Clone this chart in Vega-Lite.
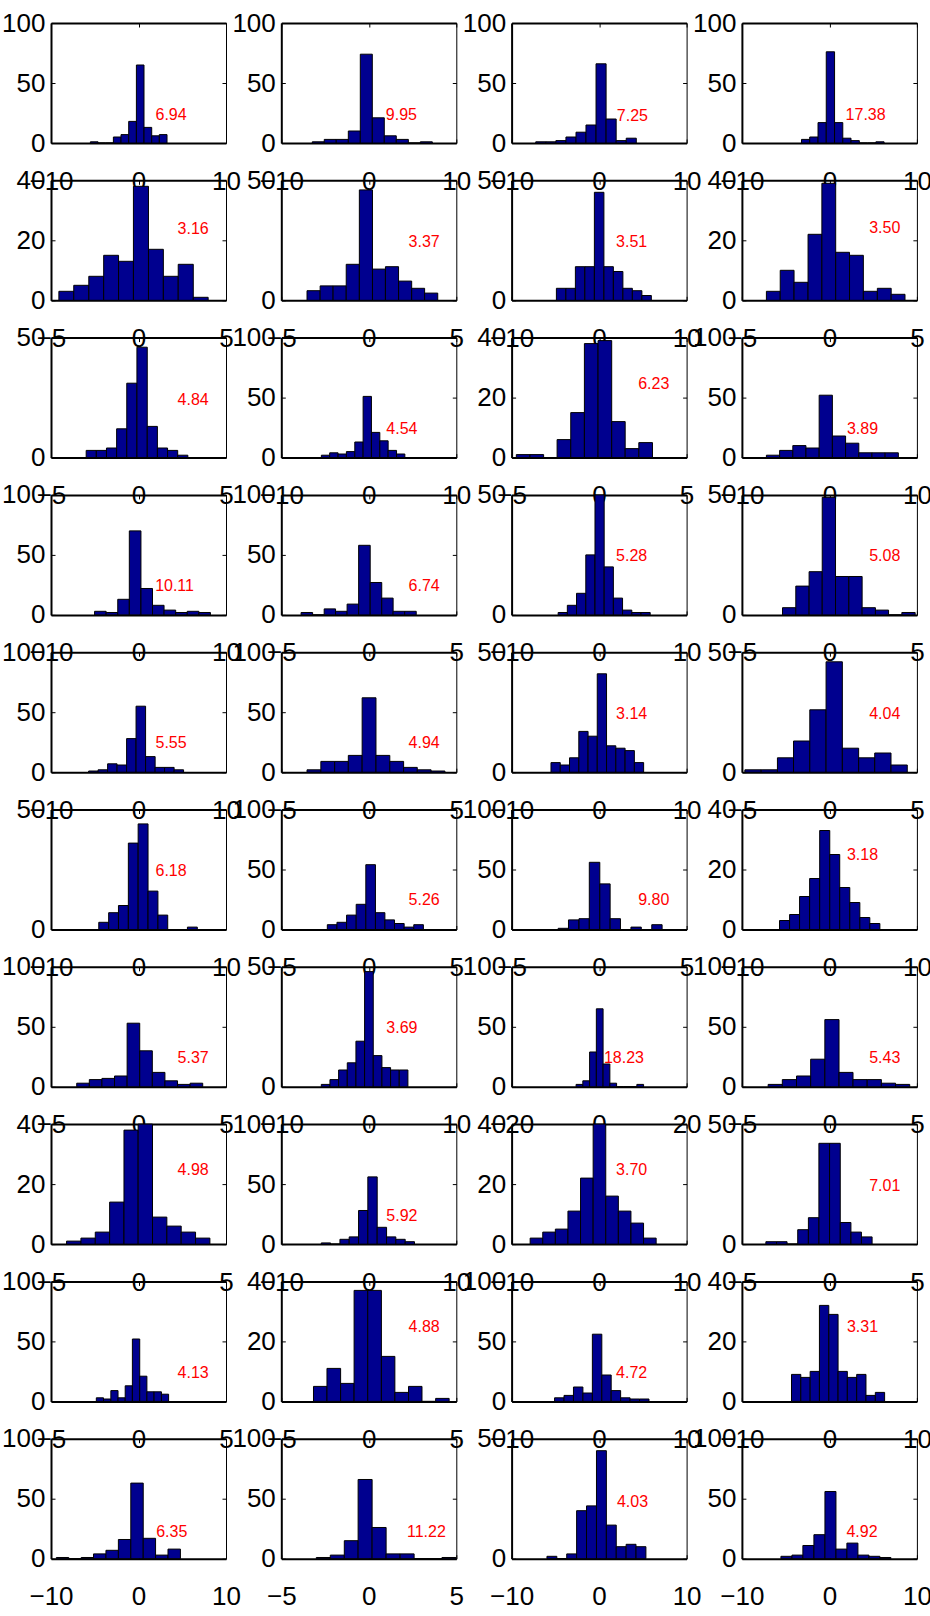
{
"$schema":"https://vega.github.io/schema/vega-lite/v6.json",
"background":"white",
"padding":{"left":1,"top":10,"right":0,"bottom":0},
"datasets":{
"labels":[
{"p":1,"t":"6.94","lx":3.72,"ly":23.6},{"p":2,"t":"9.95","lx":3.72,"ly":23.6},{"p":3,"t":"7.25","lx":3.8,"ly":22.3},{"p":4,"t":"17.38","lx":4.14,"ly":23.6},
{"p":5,"t":"3.16","lx":3.12,"ly":23.9},{"p":6,"t":"3.37","lx":3.16,"ly":24.1},{"p":7,"t":"3.51","lx":3.72,"ly":24.1},{"p":8,"t":"3.50","lx":3.16,"ly":24},
{"p":9,"t":"4.84","lx":3.12,"ly":24.1},{"p":10,"t":"4.54","lx":3.78,"ly":24.1},{"p":11,"t":"6.23","lx":3.12,"ly":24.5},{"p":12,"t":"3.89","lx":3.78,"ly":24.1},
{"p":13,"t":"10.11","lx":4.12,"ly":23.8},{"p":14,"t":"6.74","lx":3.16,"ly":23.8},{"p":15,"t":"5.28","lx":3.72,"ly":24.4},{"p":16,"t":"5.08","lx":3.16,"ly":24.4},
{"p":17,"t":"5.55","lx":3.72,"ly":24.1},{"p":18,"t":"4.94","lx":3.16,"ly":24.1},{"p":19,"t":"3.14","lx":3.72,"ly":24.4},{"p":20,"t":"4.04","lx":3.16,"ly":24.4},
{"p":21,"t":"6.18","lx":3.72,"ly":24.4},{"p":22,"t":"5.26","lx":3.16,"ly":24.6},{"p":23,"t":"9.80","lx":3.12,"ly":24.6},{"p":24,"t":"3.18","lx":3.78,"ly":24.9},
{"p":25,"t":"5.37","lx":3.12,"ly":24.4},{"p":26,"t":"3.69","lx":3.78,"ly":24.5},{"p":27,"t":"18.23","lx":5.68,"ly":24.4},{"p":28,"t":"5.43","lx":3.16,"ly":24.4},
{"p":29,"t":"4.98","lx":3.12,"ly":24.6},{"p":30,"t":"5.92","lx":3.78,"ly":23.4},{"p":31,"t":"3.70","lx":3.72,"ly":24.6},{"p":32,"t":"7.01","lx":3.16,"ly":24.4},
{"p":33,"t":"4.13","lx":3.12,"ly":23.7},{"p":34,"t":"4.88","lx":3.16,"ly":24.8},{"p":35,"t":"4.72","lx":3.72,"ly":23.7},{"p":36,"t":"3.31","lx":3.78,"ly":24.8},
{"p":37,"t":"6.35","lx":3.8,"ly":22.4},{"p":38,"t":"11.22","lx":3.29,"ly":22.4},{"p":39,"t":"4.03","lx":3.82,"ly":23.6},{"p":40,"t":"4.92","lx":3.72,"ly":22.5}
],
"bars":[
{"p":1,"a":-5.5,"b":-4.62,"n":1},{"p":1,"a":-4.62,"b":-3.75,"n":0},{"p":1,"a":-3.75,"b":-2.87,"n":0},{"p":1,"a":-2.87,"b":-2.0,"n":5},{"p":1,"a":-2.0,"b":-1.12,"n":7},{"p":1,"a":-1.12,"b":-0.24,"n":18},{"p":1,"a":-0.24,"b":0.63,"n":65},{"p":1,"a":0.63,"b":1.51,"n":13},{"p":1,"a":1.51,"b":2.38,"n":6},{"p":1,"a":2.38,"b":3.26,"n":7},
{"p":2,"a":-6.46,"b":-5.09,"n":1},{"p":2,"a":-5.09,"b":-3.72,"n":3},{"p":2,"a":-3.72,"b":-2.34,"n":3},{"p":2,"a":-2.34,"b":-0.97,"n":10},{"p":2,"a":-0.97,"b":0.4,"n":74},{"p":2,"a":0.4,"b":1.77,"n":21},{"p":2,"a":1.77,"b":3.14,"n":6},{"p":2,"a":3.14,"b":4.52,"n":3},{"p":2,"a":4.52,"b":5.89,"n":0},{"p":2,"a":5.89,"b":7.26,"n":1},
{"p":3,"a":-7.24,"b":-6.09,"n":1},{"p":3,"a":-6.09,"b":-4.94,"n":1},{"p":3,"a":-4.94,"b":-3.79,"n":2},{"p":3,"a":-3.79,"b":-2.64,"n":5},{"p":3,"a":-2.64,"b":-1.5,"n":9},{"p":3,"a":-1.5,"b":-0.35,"n":15},{"p":3,"a":-0.35,"b":0.8,"n":66},{"p":3,"a":0.8,"b":1.95,"n":20},{"p":3,"a":1.95,"b":3.1,"n":2},{"p":3,"a":3.1,"b":4.25,"n":4},
{"p":4,"a":-3.19,"b":-2.25,"n":3},{"p":4,"a":-2.25,"b":-1.3,"n":5},{"p":4,"a":-1.3,"b":-0.36,"n":17},{"p":4,"a":-0.36,"b":0.59,"n":76},{"p":4,"a":0.59,"b":1.53,"n":17},{"p":4,"a":1.53,"b":2.47,"n":4},{"p":4,"a":2.47,"b":3.42,"n":2},{"p":4,"a":3.42,"b":4.36,"n":0},{"p":4,"a":4.36,"b":5.31,"n":0},{"p":4,"a":5.31,"b":6.25,"n":1},
{"p":5,"a":-4.55,"b":-3.7,"n":3},{"p":5,"a":-3.7,"b":-2.84,"n":5},{"p":5,"a":-2.84,"b":-1.99,"n":8},{"p":5,"a":-1.99,"b":-1.14,"n":15},{"p":5,"a":-1.14,"b":-0.29,"n":13},{"p":5,"a":-0.29,"b":0.57,"n":38},{"p":5,"a":0.57,"b":1.42,"n":17},{"p":5,"a":1.42,"b":2.27,"n":8},{"p":5,"a":2.27,"b":3.13,"n":12},{"p":5,"a":3.13,"b":3.98,"n":1},
{"p":6,"a":-3.53,"b":-2.78,"n":4},{"p":6,"a":-2.78,"b":-2.04,"n":6},{"p":6,"a":-2.04,"b":-1.29,"n":6},{"p":6,"a":-1.29,"b":-0.54,"n":15},{"p":6,"a":-0.54,"b":0.21,"n":46},{"p":6,"a":0.21,"b":0.95,"n":13},{"p":6,"a":0.95,"b":1.7,"n":14},{"p":6,"a":1.7,"b":2.45,"n":8},{"p":6,"a":2.45,"b":3.19,"n":5},{"p":6,"a":3.19,"b":3.94,"n":3},
{"p":7,"a":-4.88,"b":-3.8,"n":5},{"p":7,"a":-3.8,"b":-2.71,"n":5},{"p":7,"a":-2.71,"b":-1.63,"n":14},{"p":7,"a":-1.63,"b":-0.54,"n":14},{"p":7,"a":-0.54,"b":0.55,"n":45},{"p":7,"a":0.55,"b":1.63,"n":14},{"p":7,"a":1.63,"b":2.72,"n":12},{"p":7,"a":2.72,"b":3.8,"n":5},{"p":7,"a":3.8,"b":4.89,"n":4},{"p":7,"a":4.89,"b":5.97,"n":2},
{"p":8,"a":-3.6,"b":-2.81,"n":3},{"p":8,"a":-2.81,"b":-2.02,"n":10},{"p":8,"a":-2.02,"b":-1.22,"n":6},{"p":8,"a":-1.22,"b":-0.43,"n":22},{"p":8,"a":-0.43,"b":0.36,"n":39},{"p":8,"a":0.36,"b":1.15,"n":16},{"p":8,"a":1.15,"b":1.94,"n":15},{"p":8,"a":1.94,"b":2.74,"n":3},{"p":8,"a":2.74,"b":3.53,"n":4},{"p":8,"a":3.53,"b":4.32,"n":2},
{"p":9,"a":-2.99,"b":-2.41,"n":3},{"p":9,"a":-2.41,"b":-1.83,"n":3},{"p":9,"a":-1.83,"b":-1.25,"n":4},{"p":9,"a":-1.25,"b":-0.67,"n":12},{"p":9,"a":-0.67,"b":-0.09,"n":31},{"p":9,"a":-0.09,"b":0.5,"n":46},{"p":9,"a":0.5,"b":1.08,"n":13},{"p":9,"a":1.08,"b":1.66,"n":4},{"p":9,"a":1.66,"b":2.24,"n":3},{"p":9,"a":2.24,"b":2.82,"n":1},
{"p":10,"a":-5.42,"b":-4.47,"n":2},{"p":10,"a":-4.47,"b":-3.51,"n":4},{"p":10,"a":-3.51,"b":-2.56,"n":3},{"p":10,"a":-2.56,"b":-1.6,"n":5},{"p":10,"a":-1.6,"b":-0.65,"n":13},{"p":10,"a":-0.65,"b":0.3,"n":51},{"p":10,"a":0.3,"b":1.26,"n":21},{"p":10,"a":1.26,"b":2.21,"n":14},{"p":10,"a":2.21,"b":3.17,"n":6},{"p":10,"a":3.17,"b":4.12,"n":3},
{"p":11,"a":-4.73,"b":-3.95,"n":1},{"p":11,"a":-3.95,"b":-3.17,"n":1},{"p":11,"a":-3.17,"b":-2.4,"n":0},{"p":11,"a":-2.4,"b":-1.62,"n":6},{"p":11,"a":-1.62,"b":-0.84,"n":15},{"p":11,"a":-0.84,"b":-0.06,"n":38},{"p":11,"a":-0.06,"b":0.72,"n":39},{"p":11,"a":0.72,"b":1.49,"n":12},{"p":11,"a":1.49,"b":2.27,"n":3},{"p":11,"a":2.27,"b":3.05,"n":5},
{"p":12,"a":-7.2,"b":-5.69,"n":2},{"p":12,"a":-5.69,"b":-4.18,"n":6},{"p":12,"a":-4.18,"b":-2.68,"n":10},{"p":12,"a":-2.68,"b":-1.17,"n":8},{"p":12,"a":-1.17,"b":0.34,"n":52},{"p":12,"a":0.34,"b":1.85,"n":18},{"p":12,"a":1.85,"b":3.36,"n":12},{"p":12,"a":3.36,"b":4.86,"n":4},{"p":12,"a":4.86,"b":6.37,"n":4},{"p":12,"a":6.37,"b":7.88,"n":4},
{"p":13,"a":-5.02,"b":-3.7,"n":3},{"p":13,"a":-3.7,"b":-2.37,"n":2},{"p":13,"a":-2.37,"b":-1.05,"n":13},{"p":13,"a":-1.05,"b":0.28,"n":70},{"p":13,"a":0.28,"b":1.6,"n":22},{"p":13,"a":1.6,"b":2.92,"n":8},{"p":13,"a":2.92,"b":4.25,"n":4},{"p":13,"a":4.25,"b":5.57,"n":2},{"p":13,"a":5.57,"b":6.9,"n":3},{"p":13,"a":6.9,"b":8.22,"n":2},
{"p":14,"a":-3.87,"b":-3.21,"n":2},{"p":14,"a":-3.21,"b":-2.55,"n":0},{"p":14,"a":-2.55,"b":-1.9,"n":5},{"p":14,"a":-1.9,"b":-1.24,"n":3},{"p":14,"a":-1.24,"b":-0.58,"n":9},{"p":14,"a":-0.58,"b":0.08,"n":58},{"p":14,"a":0.08,"b":0.74,"n":27},{"p":14,"a":0.74,"b":1.39,"n":14},{"p":14,"a":1.39,"b":2.05,"n":3},{"p":14,"a":2.05,"b":2.71,"n":3},
{"p":15,"a":-4.68,"b":-3.63,"n":1},{"p":15,"a":-3.63,"b":-2.58,"n":4},{"p":15,"a":-2.58,"b":-1.52,"n":9},{"p":15,"a":-1.52,"b":-0.47,"n":25},{"p":15,"a":-0.47,"b":0.58,"n":50},{"p":15,"a":0.58,"b":1.63,"n":20},{"p":15,"a":1.63,"b":2.68,"n":7},{"p":15,"a":2.68,"b":3.74,"n":2},{"p":15,"a":3.74,"b":4.79,"n":1},{"p":15,"a":4.79,"b":5.84,"n":1},
{"p":16,"a":-2.68,"b":-1.92,"n":3},{"p":16,"a":-1.92,"b":-1.16,"n":12},{"p":16,"a":-1.16,"b":-0.41,"n":18},{"p":16,"a":-0.41,"b":0.35,"n":49},{"p":16,"a":0.35,"b":1.11,"n":16},{"p":16,"a":1.11,"b":1.87,"n":16},{"p":16,"a":1.87,"b":2.63,"n":3},{"p":16,"a":2.63,"b":3.38,"n":2},{"p":16,"a":3.38,"b":4.14,"n":0},{"p":16,"a":4.14,"b":4.9,"n":1},
{"p":17,"a":-5.7,"b":-4.62,"n":1},{"p":17,"a":-4.62,"b":-3.53,"n":2},{"p":17,"a":-3.53,"b":-2.45,"n":7},{"p":17,"a":-2.45,"b":-1.36,"n":6},{"p":17,"a":-1.36,"b":-0.28,"n":28},{"p":17,"a":-0.28,"b":0.81,"n":55},{"p":17,"a":0.81,"b":1.9,"n":13},{"p":17,"a":1.9,"b":2.98,"n":4},{"p":17,"a":2.98,"b":4.07,"n":4},{"p":17,"a":4.07,"b":5.15,"n":2},
{"p":18,"a":-3.53,"b":-2.74,"n":2},{"p":18,"a":-2.74,"b":-1.95,"n":9},{"p":18,"a":-1.95,"b":-1.17,"n":9},{"p":18,"a":-1.17,"b":-0.38,"n":14},{"p":18,"a":-0.38,"b":0.41,"n":62},{"p":18,"a":0.41,"b":1.2,"n":14},{"p":18,"a":1.2,"b":1.99,"n":9},{"p":18,"a":1.99,"b":2.77,"n":4},{"p":18,"a":2.77,"b":3.56,"n":2},{"p":18,"a":3.56,"b":4.35,"n":1},
{"p":19,"a":-5.5,"b":-4.44,"n":4},{"p":19,"a":-4.44,"b":-3.38,"n":3},{"p":19,"a":-3.38,"b":-2.32,"n":6},{"p":19,"a":-2.32,"b":-1.26,"n":17},{"p":19,"a":-1.26,"b":-0.21,"n":15},{"p":19,"a":-0.21,"b":0.85,"n":41},{"p":19,"a":0.85,"b":1.91,"n":11},{"p":19,"a":1.91,"b":2.97,"n":10},{"p":19,"a":2.97,"b":4.03,"n":9},{"p":19,"a":4.03,"b":5.09,"n":4},
{"p":20,"a":-4.83,"b":-3.9,"n":1},{"p":20,"a":-3.9,"b":-2.97,"n":1},{"p":20,"a":-2.97,"b":-2.05,"n":6},{"p":20,"a":-2.05,"b":-1.12,"n":13},{"p":20,"a":-1.12,"b":-0.19,"n":26},{"p":20,"a":-0.19,"b":0.74,"n":46},{"p":20,"a":0.74,"b":1.67,"n":10},{"p":20,"a":1.67,"b":2.59,"n":6},{"p":20,"a":2.59,"b":3.52,"n":8},{"p":20,"a":3.52,"b":4.45,"n":3},
{"p":21,"a":-4.54,"b":-3.41,"n":3},{"p":21,"a":-3.41,"b":-2.29,"n":7},{"p":21,"a":-2.29,"b":-1.16,"n":10},{"p":21,"a":-1.16,"b":-0.04,"n":36},{"p":21,"a":-0.04,"b":1.09,"n":44},{"p":21,"a":1.09,"b":2.22,"n":16},{"p":21,"a":2.22,"b":3.34,"n":6},{"p":21,"a":3.34,"b":4.47,"n":0},{"p":21,"a":4.47,"b":5.59,"n":0},{"p":21,"a":5.59,"b":6.72,"n":1},
{"p":22,"a":-2.37,"b":-1.82,"n":4},{"p":22,"a":-1.82,"b":-1.27,"n":6},{"p":22,"a":-1.27,"b":-0.72,"n":12},{"p":22,"a":-0.72,"b":-0.17,"n":21},{"p":22,"a":-0.17,"b":0.38,"n":54},{"p":22,"a":0.38,"b":0.92,"n":14},{"p":22,"a":0.92,"b":1.47,"n":8},{"p":22,"a":1.47,"b":2.02,"n":5},{"p":22,"a":2.02,"b":2.57,"n":2},{"p":22,"a":2.57,"b":3.12,"n":4},
{"p":23,"a":-2.34,"b":-1.75,"n":1},{"p":23,"a":-1.75,"b":-1.15,"n":8},{"p":23,"a":-1.15,"b":-0.56,"n":9},{"p":23,"a":-0.56,"b":0.04,"n":56},{"p":23,"a":0.04,"b":0.63,"n":38},{"p":23,"a":0.63,"b":1.22,"n":9},{"p":23,"a":1.22,"b":1.82,"n":0},{"p":23,"a":1.82,"b":2.41,"n":2},{"p":23,"a":2.41,"b":3.01,"n":0},{"p":23,"a":3.01,"b":3.6,"n":4},
{"p":24,"a":-5.7,"b":-4.55,"n":3},{"p":24,"a":-4.55,"b":-3.41,"n":5},{"p":24,"a":-3.41,"b":-2.26,"n":11},{"p":24,"a":-2.26,"b":-1.11,"n":17},{"p":24,"a":-1.11,"b":0.04,"n":33},{"p":24,"a":0.04,"b":1.18,"n":25},{"p":24,"a":1.18,"b":2.33,"n":14},{"p":24,"a":2.33,"b":3.48,"n":9},{"p":24,"a":3.48,"b":4.62,"n":4},{"p":24,"a":4.62,"b":5.77,"n":2},
{"p":25,"a":-3.53,"b":-2.81,"n":3},{"p":25,"a":-2.81,"b":-2.09,"n":6},{"p":25,"a":-2.09,"b":-1.37,"n":7},{"p":25,"a":-1.37,"b":-0.65,"n":9},{"p":25,"a":-0.65,"b":0.07,"n":53},{"p":25,"a":0.07,"b":0.79,"n":30},{"p":25,"a":0.79,"b":1.51,"n":12},{"p":25,"a":1.51,"b":2.23,"n":5},{"p":25,"a":2.23,"b":2.95,"n":2},{"p":25,"a":2.95,"b":3.67,"n":3},
{"p":26,"a":-5.43,"b":-4.44,"n":1},{"p":26,"a":-4.44,"b":-3.45,"n":3},{"p":26,"a":-3.45,"b":-2.46,"n":7},{"p":26,"a":-2.46,"b":-1.47,"n":10},{"p":26,"a":-1.47,"b":-0.48,"n":19},{"p":26,"a":-0.48,"b":0.51,"n":48},{"p":26,"a":0.51,"b":1.5,"n":13},{"p":26,"a":1.5,"b":2.49,"n":8},{"p":26,"a":2.49,"b":3.48,"n":7},{"p":26,"a":3.48,"b":4.47,"n":7},
{"p":27,"a":-5.26,"b":-3.72,"n":2},{"p":27,"a":-3.72,"b":-2.17,"n":5},{"p":27,"a":-2.17,"b":-0.63,"n":29},{"p":27,"a":-0.63,"b":0.91,"n":65},{"p":27,"a":0.91,"b":2.46,"n":19},{"p":27,"a":2.46,"b":4.0,"n":3},{"p":27,"a":4.0,"b":5.54,"n":0},{"p":27,"a":5.54,"b":7.08,"n":0},{"p":27,"a":7.08,"b":8.63,"n":0},{"p":27,"a":8.63,"b":10.17,"n":2},
{"p":28,"a":-3.5,"b":-2.69,"n":2},{"p":28,"a":-2.69,"b":-1.88,"n":6},{"p":28,"a":-1.88,"b":-1.07,"n":9},{"p":28,"a":-1.07,"b":-0.26,"n":23},{"p":28,"a":-0.26,"b":0.55,"n":56},{"p":28,"a":0.55,"b":1.35,"n":12},{"p":28,"a":1.35,"b":2.16,"n":6},{"p":28,"a":2.16,"b":2.97,"n":6},{"p":28,"a":2.97,"b":3.78,"n":3},{"p":28,"a":3.78,"b":4.59,"n":2},
{"p":29,"a":-4.11,"b":-3.29,"n":1},{"p":29,"a":-3.29,"b":-2.47,"n":2},{"p":29,"a":-2.47,"b":-1.65,"n":4},{"p":29,"a":-1.65,"b":-0.83,"n":14},{"p":29,"a":-0.83,"b":-0.02,"n":38},{"p":29,"a":-0.02,"b":0.8,"n":40},{"p":29,"a":0.8,"b":1.62,"n":9},{"p":29,"a":1.62,"b":2.44,"n":6},{"p":29,"a":2.44,"b":3.26,"n":4},{"p":29,"a":3.26,"b":4.08,"n":2},
{"p":30,"a":-5.43,"b":-4.37,"n":1},{"p":30,"a":-4.37,"b":-3.3,"n":0},{"p":30,"a":-3.3,"b":-2.24,"n":4},{"p":30,"a":-2.24,"b":-1.17,"n":6},{"p":30,"a":-1.17,"b":-0.11,"n":28},{"p":30,"a":-0.11,"b":0.96,"n":56},{"p":30,"a":0.96,"b":2.03,"n":14},{"p":30,"a":2.03,"b":3.09,"n":6},{"p":30,"a":3.09,"b":4.16,"n":4},{"p":30,"a":4.16,"b":5.22,"n":2},
{"p":31,"a":-7.88,"b":-6.44,"n":2},{"p":31,"a":-6.44,"b":-5.0,"n":4},{"p":31,"a":-5.0,"b":-3.56,"n":5},{"p":31,"a":-3.56,"b":-2.12,"n":11},{"p":31,"a":-2.12,"b":-0.68,"n":22},{"p":31,"a":-0.68,"b":0.76,"n":40},{"p":31,"a":0.76,"b":2.2,"n":16},{"p":31,"a":2.2,"b":3.64,"n":11},{"p":31,"a":3.64,"b":5.08,"n":7},{"p":31,"a":5.08,"b":6.52,"n":2},
{"p":32,"a":-3.63,"b":-3.02,"n":1},{"p":32,"a":-3.02,"b":-2.42,"n":1},{"p":32,"a":-2.42,"b":-1.81,"n":0},{"p":32,"a":-1.81,"b":-1.2,"n":6},{"p":32,"a":-1.2,"b":-0.6,"n":11},{"p":32,"a":-0.6,"b":0.01,"n":42},{"p":32,"a":0.01,"b":0.62,"n":42},{"p":32,"a":0.62,"b":1.23,"n":9},{"p":32,"a":1.23,"b":1.83,"n":5},{"p":32,"a":1.83,"b":2.44,"n":3},
{"p":33,"a":-2.41,"b":-2.0,"n":3},{"p":33,"a":-2.0,"b":-1.58,"n":2},{"p":33,"a":-1.58,"b":-1.17,"n":9},{"p":33,"a":-1.17,"b":-0.76,"n":3},{"p":33,"a":-0.76,"b":-0.35,"n":13},{"p":33,"a":-0.35,"b":0.07,"n":52},{"p":33,"a":0.07,"b":0.48,"n":21},{"p":33,"a":0.48,"b":0.89,"n":8},{"p":33,"a":0.89,"b":1.31,"n":8},{"p":33,"a":1.31,"b":1.72,"n":6},
{"p":34,"a":-3.16,"b":-2.39,"n":5},{"p":34,"a":-2.39,"b":-1.61,"n":11},{"p":34,"a":-1.61,"b":-0.84,"n":6},{"p":34,"a":-0.84,"b":-0.06,"n":37},{"p":34,"a":-0.06,"b":0.72,"n":37},{"p":34,"a":0.72,"b":1.49,"n":15},{"p":34,"a":1.49,"b":2.27,"n":3},{"p":34,"a":2.27,"b":3.04,"n":5},{"p":34,"a":3.04,"b":3.82,"n":0},{"p":34,"a":3.82,"b":4.59,"n":1},
{"p":35,"a":-5.09,"b":-4.01,"n":3},{"p":35,"a":-4.01,"b":-2.93,"n":5},{"p":35,"a":-2.93,"b":-1.85,"n":12},{"p":35,"a":-1.85,"b":-0.77,"n":7},{"p":35,"a":-0.77,"b":0.31,"n":56},{"p":35,"a":0.31,"b":1.38,"n":22},{"p":35,"a":1.38,"b":2.46,"n":9},{"p":35,"a":2.46,"b":3.54,"n":3},{"p":35,"a":3.54,"b":4.62,"n":2},{"p":35,"a":4.62,"b":5.7,"n":2},
{"p":36,"a":-4.33,"b":-3.27,"n":9},{"p":36,"a":-3.27,"b":-2.2,"n":8},{"p":36,"a":-2.2,"b":-1.14,"n":10},{"p":36,"a":-1.14,"b":-0.07,"n":32},{"p":36,"a":-0.07,"b":0.99,"n":29},{"p":36,"a":0.99,"b":2.05,"n":10},{"p":36,"a":2.05,"b":3.12,"n":8},{"p":36,"a":3.12,"b":4.18,"n":9},{"p":36,"a":4.18,"b":5.25,"n":2},{"p":36,"a":5.25,"b":6.31,"n":3},
{"p":37,"a":-9.39,"b":-7.97,"n":1},{"p":37,"a":-7.97,"b":-6.55,"n":0},{"p":37,"a":-6.55,"b":-5.14,"n":1},{"p":37,"a":-5.14,"b":-3.72,"n":4},{"p":37,"a":-3.72,"b":-2.3,"n":7},{"p":37,"a":-2.3,"b":-0.88,"n":16},{"p":37,"a":-0.88,"b":0.54,"n":63},{"p":37,"a":0.54,"b":1.95,"n":17},{"p":37,"a":1.95,"b":3.37,"n":3},{"p":37,"a":3.37,"b":4.79,"n":8},
{"p":38,"a":-3.0,"b":-2.2,"n":1},{"p":38,"a":-2.2,"b":-1.4,"n":3},{"p":38,"a":-1.4,"b":-0.61,"n":15},{"p":38,"a":-0.61,"b":0.19,"n":66},{"p":38,"a":0.19,"b":0.99,"n":26},{"p":38,"a":0.99,"b":1.79,"n":4},{"p":38,"a":1.79,"b":2.59,"n":4},{"p":38,"a":2.59,"b":3.38,"n":0},{"p":38,"a":3.38,"b":4.18,"n":0},{"p":38,"a":4.18,"b":4.98,"n":1},
{"p":39,"a":-5.96,"b":-4.83,"n":1},{"p":39,"a":-4.83,"b":-3.7,"n":0},{"p":39,"a":-3.7,"b":-2.57,"n":2},{"p":39,"a":-2.57,"b":-1.44,"n":20},{"p":39,"a":-1.44,"b":-0.3,"n":22},{"p":39,"a":-0.3,"b":0.83,"n":45},{"p":39,"a":0.83,"b":1.96,"n":14},{"p":39,"a":1.96,"b":3.09,"n":5},{"p":39,"a":3.09,"b":4.22,"n":6},{"p":39,"a":4.22,"b":5.35,"n":5},
{"p":40,"a":-5.54,"b":-4.28,"n":2},{"p":40,"a":-4.28,"b":-3.03,"n":3},{"p":40,"a":-3.03,"b":-1.77,"n":11},{"p":40,"a":-1.77,"b":-0.51,"n":20},{"p":40,"a":-0.51,"b":0.75,"n":56},{"p":40,"a":0.75,"b":2.0,"n":8},{"p":40,"a":2.0,"b":3.26,"n":13},{"p":40,"a":3.26,"b":4.52,"n":3},{"p":40,"a":4.52,"b":5.77,"n":2},{"p":40,"a":5.77,"b":7.03,"n":1}
]
},
"columns":4,
"spacing":{"row":37.3,"column":55.3},
"bounds":"flush",
"concat":[
{"width":175,"height":120,"layer":[{"data":{"name":"bars"},"transform":[{"filter":"datum.p==1"}],"mark":"rect","encoding":{"x":{"field":"a","type":"quantitative","scale":{"domain":[-10,10],"nice":false},"axis":{"orient":"bottom","values":[-10,0,10],"title":null}},"x2":{"field":"b"},"y":{"field":"n","type":"quantitative","scale":{"domain":[0,100],"nice":false},"axis":{"orient":"left","values":[0,50,100],"title":null}},"y2":{"datum":0}}},{"data":{"name":"labels"},"transform":[{"filter":"datum.p==1"}],"mark":"text","encoding":{"x":{"field":"lx","type":"quantitative","scale":{"domain":[-10,10],"nice":false},"axis":{"orient":"top","values":[-10,0,10],"labels":false,"title":null}},"y":{"field":"ly","type":"quantitative","scale":{"domain":[0,100],"nice":false},"axis":{"orient":"right","values":[0,50,100],"labels":false,"title":null,"domainWidth":1}},"text":{"field":"t"}}}]},
{"width":175,"height":120,"layer":[{"data":{"name":"bars"},"transform":[{"filter":"datum.p==2"}],"mark":"rect","encoding":{"x":{"field":"a","type":"quantitative","scale":{"domain":[-10,10],"nice":false},"axis":{"orient":"bottom","values":[-10,0,10],"title":null}},"x2":{"field":"b"},"y":{"field":"n","type":"quantitative","scale":{"domain":[0,100],"nice":false},"axis":{"orient":"left","values":[0,50,100],"title":null}},"y2":{"datum":0}}},{"data":{"name":"labels"},"transform":[{"filter":"datum.p==2"}],"mark":"text","encoding":{"x":{"field":"lx","type":"quantitative","scale":{"domain":[-10,10],"nice":false},"axis":{"orient":"top","values":[-10,0,10],"labels":false,"title":null}},"y":{"field":"ly","type":"quantitative","scale":{"domain":[0,100],"nice":false},"axis":{"orient":"right","values":[0,50,100],"labels":false,"title":null,"domainWidth":1}},"text":{"field":"t"}}}]},
{"width":175,"height":120,"layer":[{"data":{"name":"bars"},"transform":[{"filter":"datum.p==3"}],"mark":"rect","encoding":{"x":{"field":"a","type":"quantitative","scale":{"domain":[-10,10],"nice":false},"axis":{"orient":"bottom","values":[-10,0,10],"title":null}},"x2":{"field":"b"},"y":{"field":"n","type":"quantitative","scale":{"domain":[0,100],"nice":false},"axis":{"orient":"left","values":[0,50,100],"title":null}},"y2":{"datum":0}}},{"data":{"name":"labels"},"transform":[{"filter":"datum.p==3"}],"mark":"text","encoding":{"x":{"field":"lx","type":"quantitative","scale":{"domain":[-10,10],"nice":false},"axis":{"orient":"top","values":[-10,0,10],"labels":false,"title":null}},"y":{"field":"ly","type":"quantitative","scale":{"domain":[0,100],"nice":false},"axis":{"orient":"right","values":[0,50,100],"labels":false,"title":null,"domainWidth":1}},"text":{"field":"t"}}}]},
{"width":175,"height":120,"layer":[{"data":{"name":"bars"},"transform":[{"filter":"datum.p==4"}],"mark":"rect","encoding":{"x":{"field":"a","type":"quantitative","scale":{"domain":[-10,10],"nice":false},"axis":{"orient":"bottom","values":[-10,0,10],"title":null}},"x2":{"field":"b"},"y":{"field":"n","type":"quantitative","scale":{"domain":[0,100],"nice":false},"axis":{"orient":"left","values":[0,50,100],"title":null}},"y2":{"datum":0}}},{"data":{"name":"labels"},"transform":[{"filter":"datum.p==4"}],"mark":"text","encoding":{"x":{"field":"lx","type":"quantitative","scale":{"domain":[-10,10],"nice":false},"axis":{"orient":"top","values":[-10,0,10],"labels":false,"title":null}},"y":{"field":"ly","type":"quantitative","scale":{"domain":[0,100],"nice":false},"axis":{"orient":"right","values":[0,50,100],"labels":false,"title":null,"domainWidth":1}},"text":{"field":"t"}}}]},
{"width":175,"height":120,"layer":[{"data":{"name":"bars"},"transform":[{"filter":"datum.p==5"}],"mark":"rect","encoding":{"x":{"field":"a","type":"quantitative","scale":{"domain":[-5,5],"nice":false},"axis":{"orient":"bottom","values":[-5,0,5],"title":null}},"x2":{"field":"b"},"y":{"field":"n","type":"quantitative","scale":{"domain":[0,40],"nice":false},"axis":{"orient":"left","values":[0,20,40],"title":null}},"y2":{"datum":0}}},{"data":{"name":"labels"},"transform":[{"filter":"datum.p==5"}],"mark":"text","encoding":{"x":{"field":"lx","type":"quantitative","scale":{"domain":[-5,5],"nice":false},"axis":{"orient":"top","values":[-5,0,5],"labels":false,"title":null}},"y":{"field":"ly","type":"quantitative","scale":{"domain":[0,40],"nice":false},"axis":{"orient":"right","values":[0,20,40],"labels":false,"title":null,"domainWidth":1}},"text":{"field":"t"}}}]},
{"width":175,"height":120,"layer":[{"data":{"name":"bars"},"transform":[{"filter":"datum.p==6"}],"mark":"rect","encoding":{"x":{"field":"a","type":"quantitative","scale":{"domain":[-5,5],"nice":false},"axis":{"orient":"bottom","values":[-5,0,5],"title":null}},"x2":{"field":"b"},"y":{"field":"n","type":"quantitative","scale":{"domain":[0,50],"nice":false},"axis":{"orient":"left","values":[0,50],"title":null}},"y2":{"datum":0}}},{"data":{"name":"labels"},"transform":[{"filter":"datum.p==6"}],"mark":"text","encoding":{"x":{"field":"lx","type":"quantitative","scale":{"domain":[-5,5],"nice":false},"axis":{"orient":"top","values":[-5,0,5],"labels":false,"title":null}},"y":{"field":"ly","type":"quantitative","scale":{"domain":[0,50],"nice":false},"axis":{"orient":"right","values":[0,50],"labels":false,"title":null,"domainWidth":1}},"text":{"field":"t"}}}]},
{"width":175,"height":120,"layer":[{"data":{"name":"bars"},"transform":[{"filter":"datum.p==7"}],"mark":"rect","encoding":{"x":{"field":"a","type":"quantitative","scale":{"domain":[-10,10],"nice":false},"axis":{"orient":"bottom","values":[-10,0,10],"title":null}},"x2":{"field":"b"},"y":{"field":"n","type":"quantitative","scale":{"domain":[0,50],"nice":false},"axis":{"orient":"left","values":[0,50],"title":null}},"y2":{"datum":0}}},{"data":{"name":"labels"},"transform":[{"filter":"datum.p==7"}],"mark":"text","encoding":{"x":{"field":"lx","type":"quantitative","scale":{"domain":[-10,10],"nice":false},"axis":{"orient":"top","values":[-10,0,10],"labels":false,"title":null}},"y":{"field":"ly","type":"quantitative","scale":{"domain":[0,50],"nice":false},"axis":{"orient":"right","values":[0,50],"labels":false,"title":null,"domainWidth":1}},"text":{"field":"t"}}}]},
{"width":175,"height":120,"layer":[{"data":{"name":"bars"},"transform":[{"filter":"datum.p==8"}],"mark":"rect","encoding":{"x":{"field":"a","type":"quantitative","scale":{"domain":[-5,5],"nice":false},"axis":{"orient":"bottom","values":[-5,0,5],"title":null}},"x2":{"field":"b"},"y":{"field":"n","type":"quantitative","scale":{"domain":[0,40],"nice":false},"axis":{"orient":"left","values":[0,20,40],"title":null}},"y2":{"datum":0}}},{"data":{"name":"labels"},"transform":[{"filter":"datum.p==8"}],"mark":"text","encoding":{"x":{"field":"lx","type":"quantitative","scale":{"domain":[-5,5],"nice":false},"axis":{"orient":"top","values":[-5,0,5],"labels":false,"title":null}},"y":{"field":"ly","type":"quantitative","scale":{"domain":[0,40],"nice":false},"axis":{"orient":"right","values":[0,20,40],"labels":false,"title":null,"domainWidth":1}},"text":{"field":"t"}}}]},
{"width":175,"height":120,"layer":[{"data":{"name":"bars"},"transform":[{"filter":"datum.p==9"}],"mark":"rect","encoding":{"x":{"field":"a","type":"quantitative","scale":{"domain":[-5,5],"nice":false},"axis":{"orient":"bottom","values":[-5,0,5],"title":null}},"x2":{"field":"b"},"y":{"field":"n","type":"quantitative","scale":{"domain":[0,50],"nice":false},"axis":{"orient":"left","values":[0,50],"title":null}},"y2":{"datum":0}}},{"data":{"name":"labels"},"transform":[{"filter":"datum.p==9"}],"mark":"text","encoding":{"x":{"field":"lx","type":"quantitative","scale":{"domain":[-5,5],"nice":false},"axis":{"orient":"top","values":[-5,0,5],"labels":false,"title":null}},"y":{"field":"ly","type":"quantitative","scale":{"domain":[0,50],"nice":false},"axis":{"orient":"right","values":[0,50],"labels":false,"title":null,"domainWidth":1}},"text":{"field":"t"}}}]},
{"width":175,"height":120,"layer":[{"data":{"name":"bars"},"transform":[{"filter":"datum.p==10"}],"mark":"rect","encoding":{"x":{"field":"a","type":"quantitative","scale":{"domain":[-10,10],"nice":false},"axis":{"orient":"bottom","values":[-10,0,10],"title":null}},"x2":{"field":"b"},"y":{"field":"n","type":"quantitative","scale":{"domain":[0,100],"nice":false},"axis":{"orient":"left","values":[0,50,100],"title":null}},"y2":{"datum":0}}},{"data":{"name":"labels"},"transform":[{"filter":"datum.p==10"}],"mark":"text","encoding":{"x":{"field":"lx","type":"quantitative","scale":{"domain":[-10,10],"nice":false},"axis":{"orient":"top","values":[-10,0,10],"labels":false,"title":null}},"y":{"field":"ly","type":"quantitative","scale":{"domain":[0,100],"nice":false},"axis":{"orient":"right","values":[0,50,100],"labels":false,"title":null,"domainWidth":1}},"text":{"field":"t"}}}]},
{"width":175,"height":120,"layer":[{"data":{"name":"bars"},"transform":[{"filter":"datum.p==11"}],"mark":"rect","encoding":{"x":{"field":"a","type":"quantitative","scale":{"domain":[-5,5],"nice":false},"axis":{"orient":"bottom","values":[-5,0,5],"title":null}},"x2":{"field":"b"},"y":{"field":"n","type":"quantitative","scale":{"domain":[0,40],"nice":false},"axis":{"orient":"left","values":[0,20,40],"title":null}},"y2":{"datum":0}}},{"data":{"name":"labels"},"transform":[{"filter":"datum.p==11"}],"mark":"text","encoding":{"x":{"field":"lx","type":"quantitative","scale":{"domain":[-5,5],"nice":false},"axis":{"orient":"top","values":[-5,0,5],"labels":false,"title":null}},"y":{"field":"ly","type":"quantitative","scale":{"domain":[0,40],"nice":false},"axis":{"orient":"right","values":[0,20,40],"labels":false,"title":null,"domainWidth":1}},"text":{"field":"t"}}}]},
{"width":175,"height":120,"layer":[{"data":{"name":"bars"},"transform":[{"filter":"datum.p==12"}],"mark":"rect","encoding":{"x":{"field":"a","type":"quantitative","scale":{"domain":[-10,10],"nice":false},"axis":{"orient":"bottom","values":[-10,0,10],"title":null}},"x2":{"field":"b"},"y":{"field":"n","type":"quantitative","scale":{"domain":[0,100],"nice":false},"axis":{"orient":"left","values":[0,50,100],"title":null}},"y2":{"datum":0}}},{"data":{"name":"labels"},"transform":[{"filter":"datum.p==12"}],"mark":"text","encoding":{"x":{"field":"lx","type":"quantitative","scale":{"domain":[-10,10],"nice":false},"axis":{"orient":"top","values":[-10,0,10],"labels":false,"title":null}},"y":{"field":"ly","type":"quantitative","scale":{"domain":[0,100],"nice":false},"axis":{"orient":"right","values":[0,50,100],"labels":false,"title":null,"domainWidth":1}},"text":{"field":"t"}}}]},
{"width":175,"height":120,"layer":[{"data":{"name":"bars"},"transform":[{"filter":"datum.p==13"}],"mark":"rect","encoding":{"x":{"field":"a","type":"quantitative","scale":{"domain":[-10,10],"nice":false},"axis":{"orient":"bottom","values":[-10,0,10],"title":null}},"x2":{"field":"b"},"y":{"field":"n","type":"quantitative","scale":{"domain":[0,100],"nice":false},"axis":{"orient":"left","values":[0,50,100],"title":null}},"y2":{"datum":0}}},{"data":{"name":"labels"},"transform":[{"filter":"datum.p==13"}],"mark":"text","encoding":{"x":{"field":"lx","type":"quantitative","scale":{"domain":[-10,10],"nice":false},"axis":{"orient":"top","values":[-10,0,10],"labels":false,"title":null}},"y":{"field":"ly","type":"quantitative","scale":{"domain":[0,100],"nice":false},"axis":{"orient":"right","values":[0,50,100],"labels":false,"title":null,"domainWidth":1}},"text":{"field":"t"}}}]},
{"width":175,"height":120,"layer":[{"data":{"name":"bars"},"transform":[{"filter":"datum.p==14"}],"mark":"rect","encoding":{"x":{"field":"a","type":"quantitative","scale":{"domain":[-5,5],"nice":false},"axis":{"orient":"bottom","values":[-5,0,5],"title":null}},"x2":{"field":"b"},"y":{"field":"n","type":"quantitative","scale":{"domain":[0,100],"nice":false},"axis":{"orient":"left","values":[0,50,100],"title":null}},"y2":{"datum":0}}},{"data":{"name":"labels"},"transform":[{"filter":"datum.p==14"}],"mark":"text","encoding":{"x":{"field":"lx","type":"quantitative","scale":{"domain":[-5,5],"nice":false},"axis":{"orient":"top","values":[-5,0,5],"labels":false,"title":null}},"y":{"field":"ly","type":"quantitative","scale":{"domain":[0,100],"nice":false},"axis":{"orient":"right","values":[0,50,100],"labels":false,"title":null,"domainWidth":1}},"text":{"field":"t"}}}]},
{"width":175,"height":120,"layer":[{"data":{"name":"bars"},"transform":[{"filter":"datum.p==15"}],"mark":"rect","encoding":{"x":{"field":"a","type":"quantitative","scale":{"domain":[-10,10],"nice":false},"axis":{"orient":"bottom","values":[-10,0,10],"title":null}},"x2":{"field":"b"},"y":{"field":"n","type":"quantitative","scale":{"domain":[0,50],"nice":false},"axis":{"orient":"left","values":[0,50],"title":null}},"y2":{"datum":0}}},{"data":{"name":"labels"},"transform":[{"filter":"datum.p==15"}],"mark":"text","encoding":{"x":{"field":"lx","type":"quantitative","scale":{"domain":[-10,10],"nice":false},"axis":{"orient":"top","values":[-10,0,10],"labels":false,"title":null}},"y":{"field":"ly","type":"quantitative","scale":{"domain":[0,50],"nice":false},"axis":{"orient":"right","values":[0,50],"labels":false,"title":null,"domainWidth":1}},"text":{"field":"t"}}}]},
{"width":175,"height":120,"layer":[{"data":{"name":"bars"},"transform":[{"filter":"datum.p==16"}],"mark":"rect","encoding":{"x":{"field":"a","type":"quantitative","scale":{"domain":[-5,5],"nice":false},"axis":{"orient":"bottom","values":[-5,0,5],"title":null}},"x2":{"field":"b"},"y":{"field":"n","type":"quantitative","scale":{"domain":[0,50],"nice":false},"axis":{"orient":"left","values":[0,50],"title":null}},"y2":{"datum":0}}},{"data":{"name":"labels"},"transform":[{"filter":"datum.p==16"}],"mark":"text","encoding":{"x":{"field":"lx","type":"quantitative","scale":{"domain":[-5,5],"nice":false},"axis":{"orient":"top","values":[-5,0,5],"labels":false,"title":null}},"y":{"field":"ly","type":"quantitative","scale":{"domain":[0,50],"nice":false},"axis":{"orient":"right","values":[0,50],"labels":false,"title":null,"domainWidth":1}},"text":{"field":"t"}}}]},
{"width":175,"height":120,"layer":[{"data":{"name":"bars"},"transform":[{"filter":"datum.p==17"}],"mark":"rect","encoding":{"x":{"field":"a","type":"quantitative","scale":{"domain":[-10,10],"nice":false},"axis":{"orient":"bottom","values":[-10,0,10],"title":null}},"x2":{"field":"b"},"y":{"field":"n","type":"quantitative","scale":{"domain":[0,100],"nice":false},"axis":{"orient":"left","values":[0,50,100],"title":null}},"y2":{"datum":0}}},{"data":{"name":"labels"},"transform":[{"filter":"datum.p==17"}],"mark":"text","encoding":{"x":{"field":"lx","type":"quantitative","scale":{"domain":[-10,10],"nice":false},"axis":{"orient":"top","values":[-10,0,10],"labels":false,"title":null}},"y":{"field":"ly","type":"quantitative","scale":{"domain":[0,100],"nice":false},"axis":{"orient":"right","values":[0,50,100],"labels":false,"title":null,"domainWidth":1}},"text":{"field":"t"}}}]},
{"width":175,"height":120,"layer":[{"data":{"name":"bars"},"transform":[{"filter":"datum.p==18"}],"mark":"rect","encoding":{"x":{"field":"a","type":"quantitative","scale":{"domain":[-5,5],"nice":false},"axis":{"orient":"bottom","values":[-5,0,5],"title":null}},"x2":{"field":"b"},"y":{"field":"n","type":"quantitative","scale":{"domain":[0,100],"nice":false},"axis":{"orient":"left","values":[0,50,100],"title":null}},"y2":{"datum":0}}},{"data":{"name":"labels"},"transform":[{"filter":"datum.p==18"}],"mark":"text","encoding":{"x":{"field":"lx","type":"quantitative","scale":{"domain":[-5,5],"nice":false},"axis":{"orient":"top","values":[-5,0,5],"labels":false,"title":null}},"y":{"field":"ly","type":"quantitative","scale":{"domain":[0,100],"nice":false},"axis":{"orient":"right","values":[0,50,100],"labels":false,"title":null,"domainWidth":1}},"text":{"field":"t"}}}]},
{"width":175,"height":120,"layer":[{"data":{"name":"bars"},"transform":[{"filter":"datum.p==19"}],"mark":"rect","encoding":{"x":{"field":"a","type":"quantitative","scale":{"domain":[-10,10],"nice":false},"axis":{"orient":"bottom","values":[-10,0,10],"title":null}},"x2":{"field":"b"},"y":{"field":"n","type":"quantitative","scale":{"domain":[0,50],"nice":false},"axis":{"orient":"left","values":[0,50],"title":null}},"y2":{"datum":0}}},{"data":{"name":"labels"},"transform":[{"filter":"datum.p==19"}],"mark":"text","encoding":{"x":{"field":"lx","type":"quantitative","scale":{"domain":[-10,10],"nice":false},"axis":{"orient":"top","values":[-10,0,10],"labels":false,"title":null}},"y":{"field":"ly","type":"quantitative","scale":{"domain":[0,50],"nice":false},"axis":{"orient":"right","values":[0,50],"labels":false,"title":null,"domainWidth":1}},"text":{"field":"t"}}}]},
{"width":175,"height":120,"layer":[{"data":{"name":"bars"},"transform":[{"filter":"datum.p==20"}],"mark":"rect","encoding":{"x":{"field":"a","type":"quantitative","scale":{"domain":[-5,5],"nice":false},"axis":{"orient":"bottom","values":[-5,0,5],"title":null}},"x2":{"field":"b"},"y":{"field":"n","type":"quantitative","scale":{"domain":[0,50],"nice":false},"axis":{"orient":"left","values":[0,50],"title":null}},"y2":{"datum":0}}},{"data":{"name":"labels"},"transform":[{"filter":"datum.p==20"}],"mark":"text","encoding":{"x":{"field":"lx","type":"quantitative","scale":{"domain":[-5,5],"nice":false},"axis":{"orient":"top","values":[-5,0,5],"labels":false,"title":null}},"y":{"field":"ly","type":"quantitative","scale":{"domain":[0,50],"nice":false},"axis":{"orient":"right","values":[0,50],"labels":false,"title":null,"domainWidth":1}},"text":{"field":"t"}}}]},
{"width":175,"height":120,"layer":[{"data":{"name":"bars"},"transform":[{"filter":"datum.p==21"}],"mark":"rect","encoding":{"x":{"field":"a","type":"quantitative","scale":{"domain":[-10,10],"nice":false},"axis":{"orient":"bottom","values":[-10,0,10],"title":null}},"x2":{"field":"b"},"y":{"field":"n","type":"quantitative","scale":{"domain":[0,50],"nice":false},"axis":{"orient":"left","values":[0,50],"title":null}},"y2":{"datum":0}}},{"data":{"name":"labels"},"transform":[{"filter":"datum.p==21"}],"mark":"text","encoding":{"x":{"field":"lx","type":"quantitative","scale":{"domain":[-10,10],"nice":false},"axis":{"orient":"top","values":[-10,0,10],"labels":false,"title":null}},"y":{"field":"ly","type":"quantitative","scale":{"domain":[0,50],"nice":false},"axis":{"orient":"right","values":[0,50],"labels":false,"title":null,"domainWidth":1}},"text":{"field":"t"}}}]},
{"width":175,"height":120,"layer":[{"data":{"name":"bars"},"transform":[{"filter":"datum.p==22"}],"mark":"rect","encoding":{"x":{"field":"a","type":"quantitative","scale":{"domain":[-5,5],"nice":false},"axis":{"orient":"bottom","values":[-5,0,5],"title":null}},"x2":{"field":"b"},"y":{"field":"n","type":"quantitative","scale":{"domain":[0,100],"nice":false},"axis":{"orient":"left","values":[0,50,100],"title":null}},"y2":{"datum":0}}},{"data":{"name":"labels"},"transform":[{"filter":"datum.p==22"}],"mark":"text","encoding":{"x":{"field":"lx","type":"quantitative","scale":{"domain":[-5,5],"nice":false},"axis":{"orient":"top","values":[-5,0,5],"labels":false,"title":null}},"y":{"field":"ly","type":"quantitative","scale":{"domain":[0,100],"nice":false},"axis":{"orient":"right","values":[0,50,100],"labels":false,"title":null,"domainWidth":1}},"text":{"field":"t"}}}]},
{"width":175,"height":120,"layer":[{"data":{"name":"bars"},"transform":[{"filter":"datum.p==23"}],"mark":"rect","encoding":{"x":{"field":"a","type":"quantitative","scale":{"domain":[-5,5],"nice":false},"axis":{"orient":"bottom","values":[-5,0,5],"title":null}},"x2":{"field":"b"},"y":{"field":"n","type":"quantitative","scale":{"domain":[0,100],"nice":false},"axis":{"orient":"left","values":[0,50,100],"title":null}},"y2":{"datum":0}}},{"data":{"name":"labels"},"transform":[{"filter":"datum.p==23"}],"mark":"text","encoding":{"x":{"field":"lx","type":"quantitative","scale":{"domain":[-5,5],"nice":false},"axis":{"orient":"top","values":[-5,0,5],"labels":false,"title":null}},"y":{"field":"ly","type":"quantitative","scale":{"domain":[0,100],"nice":false},"axis":{"orient":"right","values":[0,50,100],"labels":false,"title":null,"domainWidth":1}},"text":{"field":"t"}}}]},
{"width":175,"height":120,"layer":[{"data":{"name":"bars"},"transform":[{"filter":"datum.p==24"}],"mark":"rect","encoding":{"x":{"field":"a","type":"quantitative","scale":{"domain":[-10,10],"nice":false},"axis":{"orient":"bottom","values":[-10,0,10],"title":null}},"x2":{"field":"b"},"y":{"field":"n","type":"quantitative","scale":{"domain":[0,40],"nice":false},"axis":{"orient":"left","values":[0,20,40],"title":null}},"y2":{"datum":0}}},{"data":{"name":"labels"},"transform":[{"filter":"datum.p==24"}],"mark":"text","encoding":{"x":{"field":"lx","type":"quantitative","scale":{"domain":[-10,10],"nice":false},"axis":{"orient":"top","values":[-10,0,10],"labels":false,"title":null}},"y":{"field":"ly","type":"quantitative","scale":{"domain":[0,40],"nice":false},"axis":{"orient":"right","values":[0,20,40],"labels":false,"title":null,"domainWidth":1}},"text":{"field":"t"}}}]},
{"width":175,"height":120,"layer":[{"data":{"name":"bars"},"transform":[{"filter":"datum.p==25"}],"mark":"rect","encoding":{"x":{"field":"a","type":"quantitative","scale":{"domain":[-5,5],"nice":false},"axis":{"orient":"bottom","values":[-5,0,5],"title":null}},"x2":{"field":"b"},"y":{"field":"n","type":"quantitative","scale":{"domain":[0,100],"nice":false},"axis":{"orient":"left","values":[0,50,100],"title":null}},"y2":{"datum":0}}},{"data":{"name":"labels"},"transform":[{"filter":"datum.p==25"}],"mark":"text","encoding":{"x":{"field":"lx","type":"quantitative","scale":{"domain":[-5,5],"nice":false},"axis":{"orient":"top","values":[-5,0,5],"labels":false,"title":null}},"y":{"field":"ly","type":"quantitative","scale":{"domain":[0,100],"nice":false},"axis":{"orient":"right","values":[0,50,100],"labels":false,"title":null,"domainWidth":1}},"text":{"field":"t"}}}]},
{"width":175,"height":120,"layer":[{"data":{"name":"bars"},"transform":[{"filter":"datum.p==26"}],"mark":"rect","encoding":{"x":{"field":"a","type":"quantitative","scale":{"domain":[-10,10],"nice":false},"axis":{"orient":"bottom","values":[-10,0,10],"title":null}},"x2":{"field":"b"},"y":{"field":"n","type":"quantitative","scale":{"domain":[0,50],"nice":false},"axis":{"orient":"left","values":[0,50],"title":null}},"y2":{"datum":0}}},{"data":{"name":"labels"},"transform":[{"filter":"datum.p==26"}],"mark":"text","encoding":{"x":{"field":"lx","type":"quantitative","scale":{"domain":[-10,10],"nice":false},"axis":{"orient":"top","values":[-10,0,10],"labels":false,"title":null}},"y":{"field":"ly","type":"quantitative","scale":{"domain":[0,50],"nice":false},"axis":{"orient":"right","values":[0,50],"labels":false,"title":null,"domainWidth":1}},"text":{"field":"t"}}}]},
{"width":175,"height":120,"layer":[{"data":{"name":"bars"},"transform":[{"filter":"datum.p==27"}],"mark":"rect","encoding":{"x":{"field":"a","type":"quantitative","scale":{"domain":[-20,20],"nice":false},"axis":{"orient":"bottom","values":[-20,0,20],"title":null}},"x2":{"field":"b"},"y":{"field":"n","type":"quantitative","scale":{"domain":[0,100],"nice":false},"axis":{"orient":"left","values":[0,50,100],"title":null}},"y2":{"datum":0}}},{"data":{"name":"labels"},"transform":[{"filter":"datum.p==27"}],"mark":"text","encoding":{"x":{"field":"lx","type":"quantitative","scale":{"domain":[-20,20],"nice":false},"axis":{"orient":"top","values":[-20,0,20],"labels":false,"title":null}},"y":{"field":"ly","type":"quantitative","scale":{"domain":[0,100],"nice":false},"axis":{"orient":"right","values":[0,50,100],"labels":false,"title":null,"domainWidth":1}},"text":{"field":"t"}}}]},
{"width":175,"height":120,"layer":[{"data":{"name":"bars"},"transform":[{"filter":"datum.p==28"}],"mark":"rect","encoding":{"x":{"field":"a","type":"quantitative","scale":{"domain":[-5,5],"nice":false},"axis":{"orient":"bottom","values":[-5,0,5],"title":null}},"x2":{"field":"b"},"y":{"field":"n","type":"quantitative","scale":{"domain":[0,100],"nice":false},"axis":{"orient":"left","values":[0,50,100],"title":null}},"y2":{"datum":0}}},{"data":{"name":"labels"},"transform":[{"filter":"datum.p==28"}],"mark":"text","encoding":{"x":{"field":"lx","type":"quantitative","scale":{"domain":[-5,5],"nice":false},"axis":{"orient":"top","values":[-5,0,5],"labels":false,"title":null}},"y":{"field":"ly","type":"quantitative","scale":{"domain":[0,100],"nice":false},"axis":{"orient":"right","values":[0,50,100],"labels":false,"title":null,"domainWidth":1}},"text":{"field":"t"}}}]},
{"width":175,"height":120,"layer":[{"data":{"name":"bars"},"transform":[{"filter":"datum.p==29"}],"mark":"rect","encoding":{"x":{"field":"a","type":"quantitative","scale":{"domain":[-5,5],"nice":false},"axis":{"orient":"bottom","values":[-5,0,5],"title":null}},"x2":{"field":"b"},"y":{"field":"n","type":"quantitative","scale":{"domain":[0,40],"nice":false},"axis":{"orient":"left","values":[0,20,40],"title":null}},"y2":{"datum":0}}},{"data":{"name":"labels"},"transform":[{"filter":"datum.p==29"}],"mark":"text","encoding":{"x":{"field":"lx","type":"quantitative","scale":{"domain":[-5,5],"nice":false},"axis":{"orient":"top","values":[-5,0,5],"labels":false,"title":null}},"y":{"field":"ly","type":"quantitative","scale":{"domain":[0,40],"nice":false},"axis":{"orient":"right","values":[0,20,40],"labels":false,"title":null,"domainWidth":1}},"text":{"field":"t"}}}]},
{"width":175,"height":120,"layer":[{"data":{"name":"bars"},"transform":[{"filter":"datum.p==30"}],"mark":"rect","encoding":{"x":{"field":"a","type":"quantitative","scale":{"domain":[-10,10],"nice":false},"axis":{"orient":"bottom","values":[-10,0,10],"title":null}},"x2":{"field":"b"},"y":{"field":"n","type":"quantitative","scale":{"domain":[0,100],"nice":false},"axis":{"orient":"left","values":[0,50,100],"title":null}},"y2":{"datum":0}}},{"data":{"name":"labels"},"transform":[{"filter":"datum.p==30"}],"mark":"text","encoding":{"x":{"field":"lx","type":"quantitative","scale":{"domain":[-10,10],"nice":false},"axis":{"orient":"top","values":[-10,0,10],"labels":false,"title":null}},"y":{"field":"ly","type":"quantitative","scale":{"domain":[0,100],"nice":false},"axis":{"orient":"right","values":[0,50,100],"labels":false,"title":null,"domainWidth":1}},"text":{"field":"t"}}}]},
{"width":175,"height":120,"layer":[{"data":{"name":"bars"},"transform":[{"filter":"datum.p==31"}],"mark":"rect","encoding":{"x":{"field":"a","type":"quantitative","scale":{"domain":[-10,10],"nice":false},"axis":{"orient":"bottom","values":[-10,0,10],"title":null}},"x2":{"field":"b"},"y":{"field":"n","type":"quantitative","scale":{"domain":[0,40],"nice":false},"axis":{"orient":"left","values":[0,20,40],"title":null}},"y2":{"datum":0}}},{"data":{"name":"labels"},"transform":[{"filter":"datum.p==31"}],"mark":"text","encoding":{"x":{"field":"lx","type":"quantitative","scale":{"domain":[-10,10],"nice":false},"axis":{"orient":"top","values":[-10,0,10],"labels":false,"title":null}},"y":{"field":"ly","type":"quantitative","scale":{"domain":[0,40],"nice":false},"axis":{"orient":"right","values":[0,20,40],"labels":false,"title":null,"domainWidth":1}},"text":{"field":"t"}}}]},
{"width":175,"height":120,"layer":[{"data":{"name":"bars"},"transform":[{"filter":"datum.p==32"}],"mark":"rect","encoding":{"x":{"field":"a","type":"quantitative","scale":{"domain":[-5,5],"nice":false},"axis":{"orient":"bottom","values":[-5,0,5],"title":null}},"x2":{"field":"b"},"y":{"field":"n","type":"quantitative","scale":{"domain":[0,50],"nice":false},"axis":{"orient":"left","values":[0,50],"title":null}},"y2":{"datum":0}}},{"data":{"name":"labels"},"transform":[{"filter":"datum.p==32"}],"mark":"text","encoding":{"x":{"field":"lx","type":"quantitative","scale":{"domain":[-5,5],"nice":false},"axis":{"orient":"top","values":[-5,0,5],"labels":false,"title":null}},"y":{"field":"ly","type":"quantitative","scale":{"domain":[0,50],"nice":false},"axis":{"orient":"right","values":[0,50],"labels":false,"title":null,"domainWidth":1}},"text":{"field":"t"}}}]},
{"width":175,"height":120,"layer":[{"data":{"name":"bars"},"transform":[{"filter":"datum.p==33"}],"mark":"rect","encoding":{"x":{"field":"a","type":"quantitative","scale":{"domain":[-5,5],"nice":false},"axis":{"orient":"bottom","values":[-5,0,5],"title":null}},"x2":{"field":"b"},"y":{"field":"n","type":"quantitative","scale":{"domain":[0,100],"nice":false},"axis":{"orient":"left","values":[0,50,100],"title":null}},"y2":{"datum":0}}},{"data":{"name":"labels"},"transform":[{"filter":"datum.p==33"}],"mark":"text","encoding":{"x":{"field":"lx","type":"quantitative","scale":{"domain":[-5,5],"nice":false},"axis":{"orient":"top","values":[-5,0,5],"labels":false,"title":null}},"y":{"field":"ly","type":"quantitative","scale":{"domain":[0,100],"nice":false},"axis":{"orient":"right","values":[0,50,100],"labels":false,"title":null,"domainWidth":1}},"text":{"field":"t"}}}]},
{"width":175,"height":120,"layer":[{"data":{"name":"bars"},"transform":[{"filter":"datum.p==34"}],"mark":"rect","encoding":{"x":{"field":"a","type":"quantitative","scale":{"domain":[-5,5],"nice":false},"axis":{"orient":"bottom","values":[-5,0,5],"title":null}},"x2":{"field":"b"},"y":{"field":"n","type":"quantitative","scale":{"domain":[0,40],"nice":false},"axis":{"orient":"left","values":[0,20,40],"title":null}},"y2":{"datum":0}}},{"data":{"name":"labels"},"transform":[{"filter":"datum.p==34"}],"mark":"text","encoding":{"x":{"field":"lx","type":"quantitative","scale":{"domain":[-5,5],"nice":false},"axis":{"orient":"top","values":[-5,0,5],"labels":false,"title":null}},"y":{"field":"ly","type":"quantitative","scale":{"domain":[0,40],"nice":false},"axis":{"orient":"right","values":[0,20,40],"labels":false,"title":null,"domainWidth":1}},"text":{"field":"t"}}}]},
{"width":175,"height":120,"layer":[{"data":{"name":"bars"},"transform":[{"filter":"datum.p==35"}],"mark":"rect","encoding":{"x":{"field":"a","type":"quantitative","scale":{"domain":[-10,10],"nice":false},"axis":{"orient":"bottom","values":[-10,0,10],"title":null}},"x2":{"field":"b"},"y":{"field":"n","type":"quantitative","scale":{"domain":[0,100],"nice":false},"axis":{"orient":"left","values":[0,50,100],"title":null}},"y2":{"datum":0}}},{"data":{"name":"labels"},"transform":[{"filter":"datum.p==35"}],"mark":"text","encoding":{"x":{"field":"lx","type":"quantitative","scale":{"domain":[-10,10],"nice":false},"axis":{"orient":"top","values":[-10,0,10],"labels":false,"title":null}},"y":{"field":"ly","type":"quantitative","scale":{"domain":[0,100],"nice":false},"axis":{"orient":"right","values":[0,50,100],"labels":false,"title":null,"domainWidth":1}},"text":{"field":"t"}}}]},
{"width":175,"height":120,"layer":[{"data":{"name":"bars"},"transform":[{"filter":"datum.p==36"}],"mark":"rect","encoding":{"x":{"field":"a","type":"quantitative","scale":{"domain":[-10,10],"nice":false},"axis":{"orient":"bottom","values":[-10,0,10],"title":null}},"x2":{"field":"b"},"y":{"field":"n","type":"quantitative","scale":{"domain":[0,40],"nice":false},"axis":{"orient":"left","values":[0,20,40],"title":null}},"y2":{"datum":0}}},{"data":{"name":"labels"},"transform":[{"filter":"datum.p==36"}],"mark":"text","encoding":{"x":{"field":"lx","type":"quantitative","scale":{"domain":[-10,10],"nice":false},"axis":{"orient":"top","values":[-10,0,10],"labels":false,"title":null}},"y":{"field":"ly","type":"quantitative","scale":{"domain":[0,40],"nice":false},"axis":{"orient":"right","values":[0,20,40],"labels":false,"title":null,"domainWidth":1}},"text":{"field":"t"}}}]},
{"width":175,"height":120,"layer":[{"data":{"name":"bars"},"transform":[{"filter":"datum.p==37"}],"mark":"rect","encoding":{"x":{"field":"a","type":"quantitative","scale":{"domain":[-10,10],"nice":false},"axis":{"orient":"bottom","values":[-10,0,10],"title":null}},"x2":{"field":"b"},"y":{"field":"n","type":"quantitative","scale":{"domain":[0,100],"nice":false},"axis":{"orient":"left","values":[0,50,100],"title":null}},"y2":{"datum":0}}},{"data":{"name":"labels"},"transform":[{"filter":"datum.p==37"}],"mark":"text","encoding":{"x":{"field":"lx","type":"quantitative","scale":{"domain":[-10,10],"nice":false},"axis":{"orient":"top","values":[-10,0,10],"labels":false,"title":null}},"y":{"field":"ly","type":"quantitative","scale":{"domain":[0,100],"nice":false},"axis":{"orient":"right","values":[0,50,100],"labels":false,"title":null,"domainWidth":1}},"text":{"field":"t"}}}]},
{"width":175,"height":120,"layer":[{"data":{"name":"bars"},"transform":[{"filter":"datum.p==38"}],"mark":"rect","encoding":{"x":{"field":"a","type":"quantitative","scale":{"domain":[-5,5],"nice":false},"axis":{"orient":"bottom","values":[-5,0,5],"title":null}},"x2":{"field":"b"},"y":{"field":"n","type":"quantitative","scale":{"domain":[0,100],"nice":false},"axis":{"orient":"left","values":[0,50,100],"title":null}},"y2":{"datum":0}}},{"data":{"name":"labels"},"transform":[{"filter":"datum.p==38"}],"mark":"text","encoding":{"x":{"field":"lx","type":"quantitative","scale":{"domain":[-5,5],"nice":false},"axis":{"orient":"top","values":[-5,0,5],"labels":false,"title":null}},"y":{"field":"ly","type":"quantitative","scale":{"domain":[0,100],"nice":false},"axis":{"orient":"right","values":[0,50,100],"labels":false,"title":null,"domainWidth":1}},"text":{"field":"t"}}}]},
{"width":175,"height":120,"layer":[{"data":{"name":"bars"},"transform":[{"filter":"datum.p==39"}],"mark":"rect","encoding":{"x":{"field":"a","type":"quantitative","scale":{"domain":[-10,10],"nice":false},"axis":{"orient":"bottom","values":[-10,0,10],"title":null}},"x2":{"field":"b"},"y":{"field":"n","type":"quantitative","scale":{"domain":[0,50],"nice":false},"axis":{"orient":"left","values":[0,50],"title":null}},"y2":{"datum":0}}},{"data":{"name":"labels"},"transform":[{"filter":"datum.p==39"}],"mark":"text","encoding":{"x":{"field":"lx","type":"quantitative","scale":{"domain":[-10,10],"nice":false},"axis":{"orient":"top","values":[-10,0,10],"labels":false,"title":null}},"y":{"field":"ly","type":"quantitative","scale":{"domain":[0,50],"nice":false},"axis":{"orient":"right","values":[0,50],"labels":false,"title":null,"domainWidth":1}},"text":{"field":"t"}}}]},
{"width":175,"height":120,"layer":[{"data":{"name":"bars"},"transform":[{"filter":"datum.p==40"}],"mark":"rect","encoding":{"x":{"field":"a","type":"quantitative","scale":{"domain":[-10,10],"nice":false},"axis":{"orient":"bottom","values":[-10,0,10],"title":null}},"x2":{"field":"b"},"y":{"field":"n","type":"quantitative","scale":{"domain":[0,100],"nice":false},"axis":{"orient":"left","values":[0,50,100],"title":null}},"y2":{"datum":0}}},{"data":{"name":"labels"},"transform":[{"filter":"datum.p==40"}],"mark":"text","encoding":{"x":{"field":"lx","type":"quantitative","scale":{"domain":[-10,10],"nice":false},"axis":{"orient":"top","values":[-10,0,10],"labels":false,"title":null}},"y":{"field":"ly","type":"quantitative","scale":{"domain":[0,100],"nice":false},"axis":{"orient":"right","values":[0,50,100],"labels":false,"title":null,"domainWidth":1}},"text":{"field":"t"}}}]}
],
"config":{
"view":{"stroke":null},
"rect":{"fill":"#00008f","stroke":"#000000","strokeWidth":1},
"text":{"color":"#ff0000","font":"Liberation Sans","fontSize":16,"align":"center","baseline":"middle"},
"axis":{"grid":false,"domainColor":"#000000","domainWidth":2,"tickColor":"#000000","tickSize":-4,"tickWidth":1,"labelFont":"Liberation Sans","labelFontSize":26,"labelColor":"#000000","labelFlush":false,"labelOverlap":false,"labelBound":false,"zindex":1},
"axisBottom":{"labelPadding":42,"labelBaseline":"middle"},
"axisLeft":{"labelPadding":10}
}
}
